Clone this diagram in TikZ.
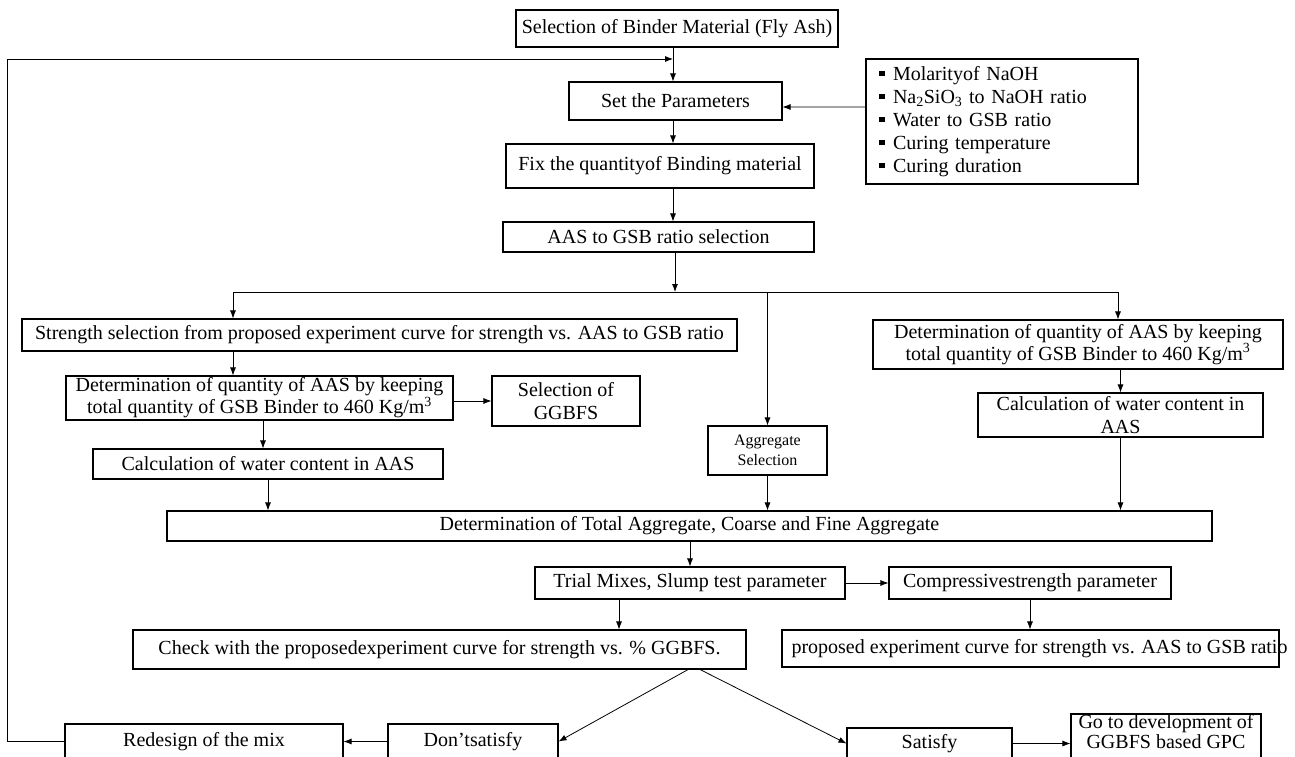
\documentclass[tikz,border=0pt]{standalone}
\usepackage{fontspec}
\setmainfont{Liberation Serif}
\usepackage{tikz}
\usetikzlibrary{arrows.meta}
\newcommand{\sqb}{\rule[0.2em]{0.28em}{0.28em}\hspace{0.42em}}
\newcommand{\kgm}{Kg/m\textsuperscript{3}}

\begin{document}
\begin{tikzpicture}[
  box/.style={draw,line width=1.1bp,inner sep=0pt,align=center,font=\fontsize{20bp}{23bp}\selectfont},
  flow/.style={-{Latex[length=8bp,width=6bp]},line width=0.8bp},
  link/.style={line width=0.8bp}]
\useasboundingbox (0bp,0bp) rectangle (1295bp,-757bp);
\node (sel) at (677bp,-28.5bp)[box,minimum width=322bp,minimum height=37bp] {Selection of Binder Material (Fly Ash)};
\node (setp) at (675.5bp,-101bp)[box,minimum width=213bp,minimum height=38bp] {Set the Parameters};
\node (params) at (1002bp,-121.5bp)[box,minimum width=272bp,minimum height=125bp,text width=246bp,align=left] {\sqb Molarityof NaOH\\ \sqb Na\textsubscript{2}SiO\textsubscript{3} to NaOH ratio\\ \sqb Water to GSB ratio\\ \sqb Curing temperature\\ \sqb Curing duration};
\node (fix) at (660bp,-166bp)[box,minimum width=308bp,minimum height=44bp] {Fix the quantityof Binding material};
\node (aas) at (658.5bp,-237bp)[box,minimum width=311bp,minimum height=30bp] {AAS to GSB ratio selection};
\node (strength) at (379.5bp,-335bp)[box,minimum width=715bp,minimum height=32bp] {Strength selection from proposed experiment curve for strength vs. AAS to GSB ratio};
\node (detL) at (259.5bp,-398bp)[box,minimum width=387bp,minimum height=44bp,font=\fontsize{20bp}{20bp}\selectfont] {Determination of quantity of AAS by keeping\\total quantity of GSB Binder to 460 \kgm};
\node (ggbfs) at (566bp,-401bp)[box,minimum width=148bp,minimum height=50bp] {Selection of\\GGBFS};
\node (calcL) at (268bp,-464bp)[box,minimum width=350bp,minimum height=30bp] {Calculation of water content in AAS};
\node (aggsel) at (767.5bp,-450.5bp)[box,minimum width=119bp,minimum height=49bp,font=\fontsize{16bp}{20bp}\selectfont] {Aggregate\\Selection};
\node (detR) at (1078bp,-344.5bp)[box,minimum width=410bp,minimum height=49bp,font=\fontsize{20bp}{21bp}\selectfont] {Determination of quantity of AAS by keeping\\total quantity of GSB Binder to 460 \kgm};
\node (calcR) at (1120.5bp,-415bp)[box,minimum width=285bp,minimum height=44bp] {Calculation of water content in\\AAS};
\node (total) at (689.5bp,-526bp)[box,minimum width=1045bp,minimum height=30bp] {Determination of Total Aggregate, Coarse and Fine Aggregate};
\node (trial) at (690bp,-583bp)[box,minimum width=310bp,minimum height=32bp] {Trial Mixes, Slump test parameter};
\node (comp) at (1030bp,-583bp)[box,minimum width=282bp,minimum height=32bp] {Compressivestrength parameter};
\node (check) at (439.5bp,-649.5bp)[box,minimum width=613bp,minimum height=39bp] {Check with the proposedexperiment curve for strength vs. \% GGBFS.};
\node (propR) at (1030.5bp,-648.5bp)[box,minimum width=497bp,minimum height=37bp] {\makebox[478bp][l]{proposed experiment curve for strength vs. AAS to GSB ratio}};
\node (redesign) at (204bp,-741.5bp)[box,minimum width=278bp,minimum height=35bp] {Redesign of the mix};
\node (dont) at (473bp,-741.5bp)[box,minimum width=170bp,minimum height=35bp] {Don’tsatisfy};
\node (satisfy) at (929.5bp,-743.5bp)[box,minimum width=165bp,minimum height=31bp] {Satisfy};
\node (godev) at (1166bp,-736.5bp)[box,minimum width=190bp,minimum height=45bp,text depth=11bp,font=\fontsize{20bp}{20bp}\selectfont] {Go to development of\\GGBFS based GPC};
\coordinate (axis) at (673bp,0bp);
\coordinate (split) at (675bp,-292bp);
\coordinate (lbr) at (233bp,-292bp);
\coordinate (rbr) at (1118bp,-292bp);
\coordinate (fbk) at (673bp,-59bp);
\coordinate (fork) at (689bp,-669bp);
\draw [flow] (sel.south -| axis) -- (setp.north -| axis);
\draw [flow] (redesign.west) -- ++(-57bp,0bp) |- (fbk);
\draw [flow] ([yshift=14.5bp]params.west) -- ([yshift=-6bp]setp.east);
\draw [flow] (setp.south -| axis) -- (fix.north -| axis);
\draw [flow] (fix.south -| axis) -- (aas.north -| axis);
\draw [flow] (aas.south -| split) -- (split);
\draw [link] (lbr) -- (rbr);
\draw [flow] (lbr) -- (lbr |- strength.north);
\draw [flow] (aggsel.north |- split) -- (aggsel.north);
\draw [flow] (rbr) -- (rbr |- detR.north);
\draw [flow] (lbr |- strength.south) -- (lbr |- detL.north);
\draw [flow] (detL.east |- ggbfs.west) -- (ggbfs.west);
\draw [flow] ([xshift=3.5bp]detL.south) -- ([xshift=3.5bp]detL.south |- calcL.north);
\draw [flow] (calcL.south) -- (calcL.south |- total.north);
\draw [flow] (aggsel.south) -- (aggsel.south |- total.north);
\draw [flow] (calcR.north |- detR.south) -- (calcR.north);
\draw [flow] (calcR.south) -- (calcR.south |- total.north);
\draw [flow] (trial.north |- total.south) -- (trial.north);
\draw [flow] (trial.east) -- (comp.west);
\draw [flow] ([xshift=-71bp]trial.south) -- ([xshift=-71bp]trial.south |- check.north);
\draw [flow] (comp.south) -- (comp.south |- propR.north);
\draw [flow] (fork) -- (dont.east);
\draw [flow] ([xshift=10bp]fork) -- (satisfy.west);
\draw [flow] (dont.west) -- (redesign.east);
\draw [flow] (satisfy.east) -- (godev.west |- satisfy.east);
\end{tikzpicture}
\end{document}
